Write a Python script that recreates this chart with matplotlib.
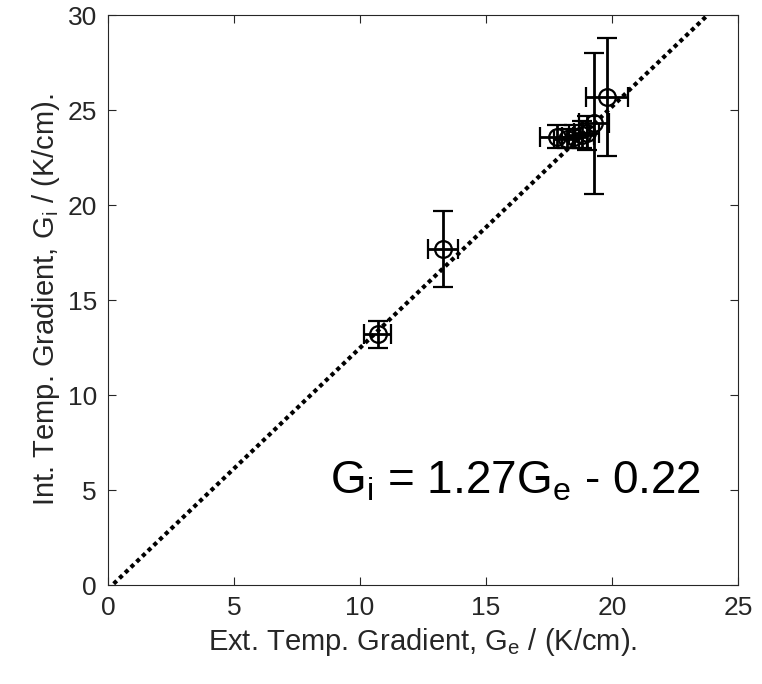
import numpy as np
import matplotlib
matplotlib.use('Agg')
import matplotlib.pyplot as plt

plt.rcParams['font.family'] = ['Liberation Sans', 'DejaVu Sans']
plt.rcParams['mathtext.fontset'] = 'custom'
plt.rcParams['mathtext.rm'] = 'Liberation Sans'
plt.rcParams['mathtext.it'] = 'Liberation Sans'

# external gradient G_e, internal gradient G_i, with errors (K/cm)
ge = [10.7, 13.3, 17.8, 18.2, 18.5, 18.8, 19.0, 19.3, 19.8]
gi = [13.2, 17.7, 23.6, 23.5, 23.6, 23.7, 23.8, 24.3, 25.7]
ge_err = [0.55, 0.6, 0.65, 0.5, 0.5, 0.5, 0.5, 0.6, 0.85]
gi_err = [0.7, 2.0, 0.6, 0.5, 0.6, 0.7, 0.9, 3.7, 3.1]

slope, intercept = 1.27, -0.22
fit_x = [0, 25]

fig = plt.figure(figsize=(7.62, 6.84), dpi=100)
ax = fig.add_axes([0.1417, 0.1447, 0.8268, 0.8333])

ax.plot(fit_x, [slope * v + intercept for v in fit_x], color='black', lw=3,
        dashes=(1, 0.9))
ax.errorbar(ge, gi, xerr=ge_err, yerr=gi_err, fmt='o', mfc='none', mec='black',
            ecolor='black', color='black', ms=12, mew=1.6, elinewidth=2,
            capsize=7, capthick=2)

ax.text(8.8, 4.8, r'G$_\mathrm{i}$ = 1.27G$_\mathrm{e}$ - 0.22',
        fontsize=33, va='baseline')

ax.set_xlim(0, 25)
ax.set_ylim(0, 30)
ax.set_xticks(range(0, 26, 5))
ax.set_yticks(range(0, 31, 5))
ax.tick_params(direction='in', top=True, right=True, labelsize=19, length=6,
               colors='#262626', labelcolor='#262626', pad=8)
for s in ax.spines.values():
    s.set_color('#262626')
ax.set_xlabel(r'Ext. Temp. Gradient, G$_\mathrm{e}$ / (K/cm).', fontsize=21, color='#262626')
ax.set_ylabel(r'Int. Temp. Gradient, G$_\mathrm{i}$ / (K/cm).', fontsize=21, color='#262626')

fig.savefig('out.png', dpi=100)
